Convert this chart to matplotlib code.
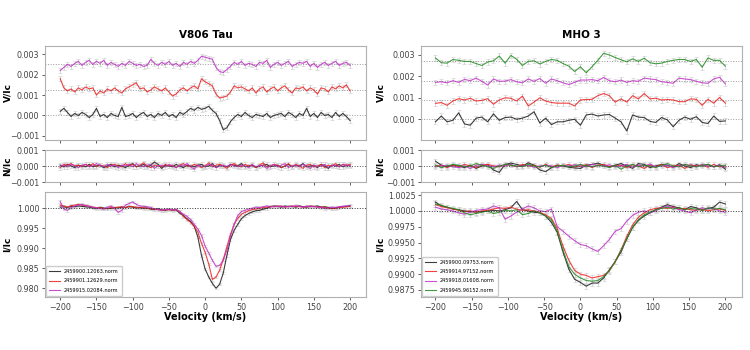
import numpy as np
import matplotlib.pyplot as plt
from matplotlib.ticker import FuncFormatter

# velocity grids (km/s)
vel_left = np.arange(-200, 201, 5)
vel_right = np.arange(-200, 201, 8)

labels_left = ['2459900.12063.norm', '2459901.12629.norm', '2459915.02084.norm']
labels_right = ['2459900.09753.norm', '2459914.97152.norm',
                '2459918.01608.norm', '2459945.96152.norm']
colors_left = ['#1a1a1a', '#ee2020', '#c030c8']
colors_right = ['#1a1a1a', '#ee2020', '#c030c8', '#218a21']

# V806 Tau, Stokes V (units of 1e-5)
v_left_black = [20, 35, 15, -5, 10, 0, 15, 5, -10, 5,
                35, -5, 5, -10, 10, 0, -5, 40, -5, 0,
                10, -10, 5, 15, -5, 5, -10, 10, 0, 15,
                -5, 5, -10, 15, 5, 20, 35, 25, 40, 30,
                35, 45, 25, 10, -25, -70, -60, -30, -10, 5,
                -5, 15, 0, -10, 5, 0, -5, 10, -10, 0,
                5, 10, -5, 15, 5, -10, 10, 0, 35, -5,
                10, -10, 15, 0, 5, -10, 15, -5, 10, -5,
                -25]
v_left_red = [55, 10, -5, 5, -10, 10, 0, 15, 5, 10,
              -25, -5, -15, 5, -5, 10, -5, -15, 5, 15,
              25, 35, 5, 10, -10, 0, 15, 5, -5, 10,
              -10, -30, -20, 0, 10, -5, 10, 20, 5, 55,
              40, 30, 20, -20, -40, -35, -30, -10, 20, 10,
              15, 5, -5, 10, -15, 5, 15, -10, 5, 15,
              -5, 10, 20, 0, -15, 10, 5, 15, -5, 10,
              0, -20, 10, 5, -10, 15, 5, 20, 10, 25,
              -5]
v_left_mag = [-30, -15, 0, -10, 5, 15, -5, 10, 20, 0,
              15, 5, 20, -5, 10, 0, -10, 5, -5, 15,
              5, -5, 0, -10, -5, 25, 5, -5, 10, 0,
              15, -5, 5, -10, 10, 0, 15, 5, 20, 40,
              35, 30, 25, -15, -35, -40, -25, -10, 10, 0,
              15, -5, 5, 0, -10, 10, 5, 20, -15, 0,
              10, -5, 5, 15, -10, 0, 10, 5, 15, -10,
              5, -15, 0, 10, -5, 5, 15, -5, 5, 10,
              -5]
v_left_offsets = [0.0, 0.00125, 0.0025]

# V806 Tau, null N (units of 1e-5)
n_left_black = [5, -5, 10, 0, -10, 5, 0, -5, 10, -5,
                0, 5, -10, 0, 10, -5, 5, 0, -10, 5,
                15, -5, 0, 10, -5, 5, 25, 10, -15, 5,
                0, -5, 10, 0, -10, 5, 0, -5, 5, 10,
                -5, 0, 15, -10, 5, 0, -5, 10, 5, 0,
                15, -5, 0, 5, -10, 0, 5, 10, -5, 0,
                5, -10, 0, 10, -5, 5, 0, 15, -5, 0,
                5, -10, 10, 0, -15, 5, 0, 10, -5, 5,
                0]
n_left_red = [-10, 10, 5, 15, 0, 5, -5, 10, 0, 15,
              -5, 5, 0, -10, 5, 10, 0, -5, 15, 0,
              10, -5, 5, 20, 0, -10, 5, 0, -5, 10,
              0, 5, -10, 5, 15, 0, -5, 10, 5, -10,
              0, 20, -5, 5, 10, 0, -15, 5, 15, 0,
              -5, 10, 0, 5, -10, 5, 20, -5, 0, 10,
              5, -10, 0, 15, -5, 10, 0, -15, 5, 10,
              -5, 0, 10, -10, 5, 0, 15, -5, 10, 5,
              10]
n_left_mag = [0, 5, -5, 10, 0, -10, 5, 10, -5, 0,
              15, 5, -5, 10, 0, 5, -10, 5, 0, 10,
              -5, 15, 0, -5, 5, 10, -15, 0, 5, -5,
              10, 0, -10, 5, 0, 15, -5, -20, 5, 0,
              -5, 10, 5, -10, 0, 5, -5, 10, 0, -5,
              5, 0, -10, 10, -5, 0, 5, -15, 0, 10,
              -5, 5, 15, -10, 0, 5, -5, 10, 0, -15,
              5, -5, 0, 10, -10, 5, 0, -5, 10, 0,
              5]

# V806 Tau, Stokes I (deviation from 1, units of 1e-4)
i_left_black = [3, 4, 2, 5, 4, 6, 5, 4, 3, 1,
                0, 2, 1, -1, 0, 2, 1, 3, 2, 4,
                3, 1, 2, 0, 1, -2, -3, -1, -4, -5,
                -3, -4, -4, -12, -18, -26, -33, -45, -72, -118,
                -152, -172, -188, -200, -190, -162, -118, -78, -55, -40,
                -26, -18, -13, -9, -6, -5, -2, 0, 4, 6,
                5, 3, 6, 4, 5, 3, 6, 4, 3, 5,
                4, 6, 3, 4, 2, 0, 1, 3, 4, 5,
                6]
i_left_red = [8, 6, 3, 7, 8, 10, 8, 7, 5, 3,
              1, 2, -1, 0, 2, 1, 3, 4, 2, 5,
              4, 3, 1, 2, 0, -1, -2, -3, -5, -4,
              -3, -5, -3, -8, -20, -28, -35, -45, -60, -88,
              -110, -140, -178, -172, -155, -128, -96, -65, -40, -25,
              -15, -10, -6, -3, -2, 0, 2, 3, 5, 4,
              6, 5, 3, 5, 6, 4, 5, 3, 4, 6,
              5, 3, 4, 2, 1, -1, 0, 2, 3, 4,
              5]
i_left_mag = [17, -2, -5, 2, 6, 8, 10, 7, 5, 3,
              1, 0, -2, 3, 6, 0, -10, -5, 8, 12,
              16, 10, 6, 5, 4, 2, -1, -3, -5, -3,
              -2, -4, -3, -8, -15, -20, -28, -40, -52, -68,
              -95, -112, -130, -145, -143, -130, -105, -70, -40, -18,
              -8, -5, -2, 0, 3, 2, 4, 6, 3, 5,
              4, 6, 3, 5, 4, 7, 5, 3, 6, 4,
              5, 3, 2, 0, 1, 3, 2, 4, 5, 6,
              7]

# MHO 3, Stokes V (units of 1e-5)
v_right_black = [-12, 15, -12, -5, 30, -22, -28, 5, 10, -12,
                 25, -5, 8, 10, 0, 5, 15, 35, -18, 5,
                 -25, -12, -12, -5, 0, -28, 20, 24, 15, 20,
                 22, 5, -12, -55, 20, 10, 8, -10, -15, 8,
                 -3, -35, -5, 10, 0, 12, -15, -20, 15, -10,
                 -8]
v_right_red = [-16, -12, -25, -5, 6, 0, 8, -5, -2, 6,
               -20, 0, 10, 8, -5, 18, -28, -10, 10, -5,
               -12, -15, -15, -15, -28, 0, 2, 3, 20, 30,
               20, -10, 5, -10, 20, 5, 30, 5, 8, 0,
               2, 0, -8, -8, 5, 3, -25, 3, -15, 12,
               -15]
v_right_mag = [-8, -5, -10, 0, -8, 6, 0, 12, -3, -20,
               8, -3, -2, 5, -5, -10, 8, -3, 10, -12,
               8, 0, -10, -18, -8, 3, 3, 5, 0, 15,
               0, -5, 3, -8, 0, -3, 12, 8, 5, -5,
               -8, -12, 12, 8, 5, -3, -10, -12, 8, 16,
               -15]
v_right_green = [16, -6, -8, 9, 5, 0, 0, -10, -19, -3,
                 3, 25, -8, 28, 10, -19, 0, 3, -12, 0,
                 9, 5, -10, -22, -47, -25, -53, -25, 5, 38,
                 30, 18, 8, -2, 12, 0, 15, -6, -11, -8,
                 0, 5, 9, 9, 0, 9, -27, 16, 5, 5,
                 -22]
v_right_offsets = [0.0, 0.0009, 0.0018, 0.0027]

# MHO 3, null N (units of 1e-5)
n_right_black = [30, 5, -5, 5, 0, -10, 5, -15, 0, 8,
                 -25, -40, 10, 18, 10, 0, 20, 5, -25, -35,
                 -10, 5, 0, -8, -12, -15, 5, 10, 18, 5,
                 -5, 5, 15, 0, -15, 15, 10, -10, 0, 10,
                 5, -8, 15, 0, -10, 8, 0, 10, -5, 8,
                 -20]
n_right_red = [0, 5, -10, 5, -5, 10, 0, -8, 5, 10,
               0, -5, 8, 5, -5, 10, 0, 5, -8, 10,
               -5, 5, 0, 10, -5, 0, 8, -10, 5, 10,
               -5, 0, 5, -10, 8, 0, -15, 5, -5, 10,
               -10, 0, 5, -15, 8, 0, 5, -8, 10, -5,
               0]
n_right_mag = [-5, 0, 5, -5, -10, 0, -15, 5, 10, 0,
               -5, 5, 0, 10, -5, 0, 5, -8, 0, 5,
               0, -10, 5, 0, 8, 0, -5, 10, 5, 0,
               8, -5, 0, 10, -8, 5, 0, 12, -5, 0,
               5, -10, 0, 8, 5, -5, 10, 0, -5, 5,
               -10]
n_right_green = [5, -10, 0, 10, 5, -5, 0, 15, 5, -5,
                 -15, 0, 10, 5, 0, -5, 10, 0, -5, 5,
                 -10, 0, 5, -5, 0, 10, 0, -5, 5, 0,
                 -10, 5, -20, 0, 10, -5, 5, 0, -10, 5,
                 15, 0, -5, 10, 0, -5, 5, 10, -5, 0,
                 5]

# MHO 3, Stokes I (deviation from 1, units of 1e-4)
i_right_black = [14, 8, 6, 3, 2, 0, -1, -2, -1, 0,
                 1, 0, 2, 5, 15, 2, 0, -2, -3, -8,
                 -18, -34, -65, -92, -108, -113, -119, -114, -114, -106,
                 -93, -80, -65, -44, -26, -15, -8, -3, 2, 6,
                 10, 7, 5, 2, 7, 5, 1, 4, 6, 14,
                 11]
i_right_red = [10, 7, 5, 3, 1, -1, 0, -2, 0, 1,
               3, 5, 4, 6, 3, 1, 2, 0, -2, -6,
               -12, -28, -56, -78, -94, -100, -102, -106, -104, -102,
               -95, -80, -62, -40, -22, -10, -3, 2, 4, 5,
               4, 6, 3, 4, 2, 1, 3, 0, 2, 3,
               1]
i_right_mag = [6, 3, 2, 0, -3, -5, -2, 1, 2, 3,
               8, 5, -13, -8, -2, 3, 8, 5, 0, -1,
               3, -25, -32, -40, -47, -53, -55, -60, -64, -55,
               -45, -32, -28, -16, -7, -2, 0, -3, 0, 5,
               8, 5, 2, 0, -3, 2, 5, 3, 4, 0,
               -2]
i_right_green = [11, 9, 6, 4, 2, -3, -6, -4, -2, 0,
                 -4, -2, 1, 0, 2, -6, -4, 0, -3, -8,
                 -14, -32, -62, -88, -100, -106, -110, -111, -110, -104,
                 -94, -80, -62, -44, -26, -14, -6, -2, 2, 4,
                 6, 3, 5, 2, 4, 3, 1, 5, 3, 4,
                 2]

# typical error bars
err_v = 1.2e-4
err_n = 1.2e-4
err_i_left = 3e-4
err_i_right = 4e-4


def minus_fmt(fmt):
    return FuncFormatter(lambda x, pos: (fmt % x).replace('-', '\u2212'))


def style(ax, show_x, label_x):
    for s in ax.spines.values():
        s.set_color('#b0b0b0')
        s.set_linewidth(0.8)
    ax.tick_params(labelsize=5.8, colors='#444444', length=2.5, width=0.6,
                   pad=1.5)
    ax.set_xticks(np.arange(-200, 201, 50))
    if not show_x:
        ax.tick_params(labelbottom=False)
    ax.yaxis.set_label_coords(label_x, 0.5)


def draw(ax, vel, series, scale, base, err, colors, offsets):
    for y, c, off in zip(series, colors, offsets):
        vals = base + np.array(y) * scale + off
        ax.errorbar(vel, vals, yerr=err, fmt='none', ecolor='#d3d3d3',
                    elinewidth=0.6, capsize=1.2, capthick=0.5, zorder=1)
        ax.plot(vel, vals, color=c, lw=0.8, alpha=0.85, zorder=3)


fig = plt.figure(figsize=(7.5, 3.5), dpi=100)
lab_font = dict(fontsize=6.5, fontweight='bold')

columns = [
    dict(x0=45, title='V806 Tau', vel=vel_left, colors=colors_left,
         labels=labels_left, label_x=(12 - 45) / 321.0,
         V=[v_left_black, v_left_red, v_left_mag], voff=v_left_offsets,
         N=[n_left_black, n_left_red, n_left_mag],
         I=[i_left_black, i_left_red, i_left_mag], ierr=err_i_left,
         vlim=(-0.0012, 0.0034), vticks=[-0.001, 0, 0.001, 0.002, 0.003],
         ilim=(0.9778, 1.0041), iticks=[0.980, 0.985, 0.990, 0.995, 1.000],
         ifmt='%.3f', xlim=(-221, 222)),
    dict(x0=421, title='MHO 3', vel=vel_right, colors=colors_right,
         labels=labels_right, label_x=(385 - 421) / 321.0,
         V=[v_right_black, v_right_red, v_right_mag, v_right_green],
         voff=v_right_offsets,
         N=[n_right_black, n_right_red, n_right_mag, n_right_green],
         I=[i_right_black, i_right_red, i_right_mag, i_right_green],
         ierr=err_i_right,
         vlim=(-0.00097, 0.00342), vticks=[0, 0.001, 0.002, 0.003],
         ilim=(0.98639, 1.0030),
         iticks=[0.9875, 0.99, 0.9925, 0.995, 0.9975, 1.0, 1.0025],
         ifmt='%.4f', xlim=(-220, 223)),
]

W, H = 750.0, 350.0
for col in columns:
    x0 = col['x0'] / W
    w = 321 / W
    ax_v = fig.add_axes([x0, 1 - 140 / H, w, 94 / H])
    ax_n = fig.add_axes([x0, 1 - 182 / H, w, 32 / H])
    ax_i = fig.add_axes([x0, 1 - 297 / H, w, 105 / H])

    # Stokes V
    draw(ax_v, col['vel'], col['V'], 1e-5, 0.0, err_v, col['colors'], col['voff'])
    for off in col['voff']:
        ax_v.axhline(off, color='#999999', ls=':', lw=0.7, zorder=2)
    ax_v.set_ylim(*col['vlim'])
    ax_v.set_yticks(col['vticks'])
    ax_v.yaxis.set_major_formatter(minus_fmt('%.3f'))
    ax_v.set_ylabel('V/Ic', **lab_font)
    ax_v.set_title(col['title'], fontsize=7.5, fontweight='bold', pad=6)

    # null
    draw(ax_n, col['vel'], col['N'], 1e-5, 0.0, err_n, col['colors'],
         [0.0] * len(col['N']))
    ax_n.axhline(0, color='#555555', ls=':', lw=0.7, zorder=4)
    ax_n.set_ylim(-0.001, 0.001)
    ax_n.set_yticks([-0.001, 0, 0.001])
    ax_n.yaxis.set_major_formatter(minus_fmt('%.3f'))
    ax_n.set_ylabel('N/Ic', **lab_font)

    # Stokes I
    for y, c, lab in zip(col['I'], col['colors'], col['labels']):
        vals = 1.0 + np.array(y) * 1e-4
        ax_i.errorbar(col['vel'], vals, yerr=col['ierr'], fmt='none',
                      ecolor='#d3d3d3', elinewidth=0.6, capsize=1.2,
                      capthick=0.5, zorder=1)
        ax_i.plot(col['vel'], vals, color=c, lw=0.8, alpha=0.85, zorder=3,
                  label=lab)
    ax_i.axhline(1.0, color='#333333', ls=':', lw=0.7, zorder=4)
    ax_i.set_ylim(*col['ilim'])
    ax_i.set_yticks(col['iticks'])
    ax_i.yaxis.set_major_formatter(minus_fmt(col['ifmt']))
    ax_i.set_ylabel('I/Ic', **lab_font)
    ax_i.set_xlabel('Velocity (km/s)', fontsize=7, fontweight='bold', labelpad=0)
    ax_i.legend(loc='lower left', fontsize=3.6, frameon=True, borderpad=0.6,
                handlelength=2.2, labelspacing=0.9, framealpha=1,
                edgecolor='#cccccc', borderaxespad=0.2)

    for ax, show in [(ax_v, False), (ax_n, False), (ax_i, True)]:
        style(ax, show, col['label_x'])
        ax.set_xlim(*col['xlim'])

fig.savefig('out.png', dpi=100)
